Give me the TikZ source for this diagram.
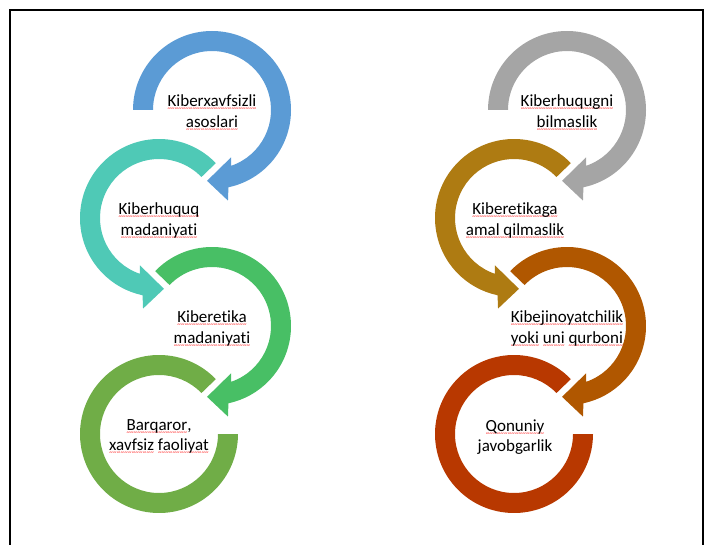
\documentclass[tikz,border=0pt]{standalone}
\usepackage{fontspec}
\setmainfont{Carlito}[Ligatures={NoCommon}]
\newcommand{\spell}[1]{\leavevmode\setbox0\hbox{#1}\rlap{\color{red}\lower4pt\hbox to\wd0{\fontsize{7}{7}\selectfont\xleaders\hbox{\char`\~}\hfil}}\box0\relax}
\definecolor{cA}{HTML}{5B9BD5}
\definecolor{cB}{HTML}{4FC9B6}
\definecolor{cC}{HTML}{48BF65}
\definecolor{cD}{HTML}{70AD47}
\definecolor{dA}{HTML}{A5A5A5}
\definecolor{dB}{HTML}{AE7B12}
\definecolor{dC}{HTML}{B05700}
\definecolor{dD}{HTML}{B83800}
\tikzset{lbl/.style={align=center,font=\fontsize{17}{20.5}\selectfont,text=black,inner sep=0pt}}
\begin{document}
\begin{tikzpicture}[x=1pt,y=1pt]
	\useasboundingbox (0,0) rectangle (709,-545);
	\draw[line width=1.5pt](10,-545)--(10,-10)--(703,-10)--(703,-545);
	% two columns of rings
	\foreach \dx/\ca/\cb/\cc/\cd in {0/cA/cB/cC/cD,355/dA/dB/dC/dD}{
	  \begin{scope}[xshift=\dx]
	    \fill[\ca,shift={(212,-110)}](180:79) arc[start angle=180,end angle=-78,radius=79]--(-80:92)--(-94:71)--(-68:51)--(-71:59) arc[start angle=-71,end angle=180,radius=59]--cycle;
	    \fill[\cb,shift={(159,-218)}](44:79) arc[start angle=44,end angle=258,radius=79]--(260:92)--(274:71)--(248:51)--(251:59) arc[start angle=251,end angle=44,radius=59]--cycle;
	    \fill[\cc,shift={(212,-326)}](136:79) arc[start angle=136,end angle=-78,radius=79]--(-80:92)--(-94:71)--(-68:51)--(-71:59) arc[start angle=-71,end angle=136,radius=59]--cycle;
	    \fill[\cd,shift={(159,-434)}](44:79) arc[start angle=44,end angle=360,radius=79]--(0:59) arc[start angle=360,end angle=44,radius=59]--cycle;
	  \end{scope}
	}
	\node[lbl] (a1) at (212,-113) {\spell{Kiberxavfsizli}\\\spell{asoslari}};
	\node[lbl] (a2) at (159,-221) {\spell{Kiberhuquq}\\\spell{madaniyati}};
	\node[lbl] (a3) at (212,-329) {\spell{Kiberetika}\\\spell{madaniyati}};
	\node[lbl] (a4) at (159,-437) {\spell{Barqaror},\\\spell{xavfsiz} \spell{faoliyat}};
	\node[lbl] (b1) at (567,-113) {\spell{Kiberhuqugni}\\\spell{bilmaslik}};
	\node[lbl] (b2) at (515,-221) {\spell{Kiberetikaga}\\\spell{amal qilmaslik}};
	\node[lbl] (b3) at (567,-329) {\spell{Kibejinoyatchilik}\\\spell{yoki} \spell{uni} \spell{qurboni}};
	\node[lbl] (b4) at (515,-437) {\spell{Qonuniy}\\javobgarlik};
\end{tikzpicture}
\end{document}
